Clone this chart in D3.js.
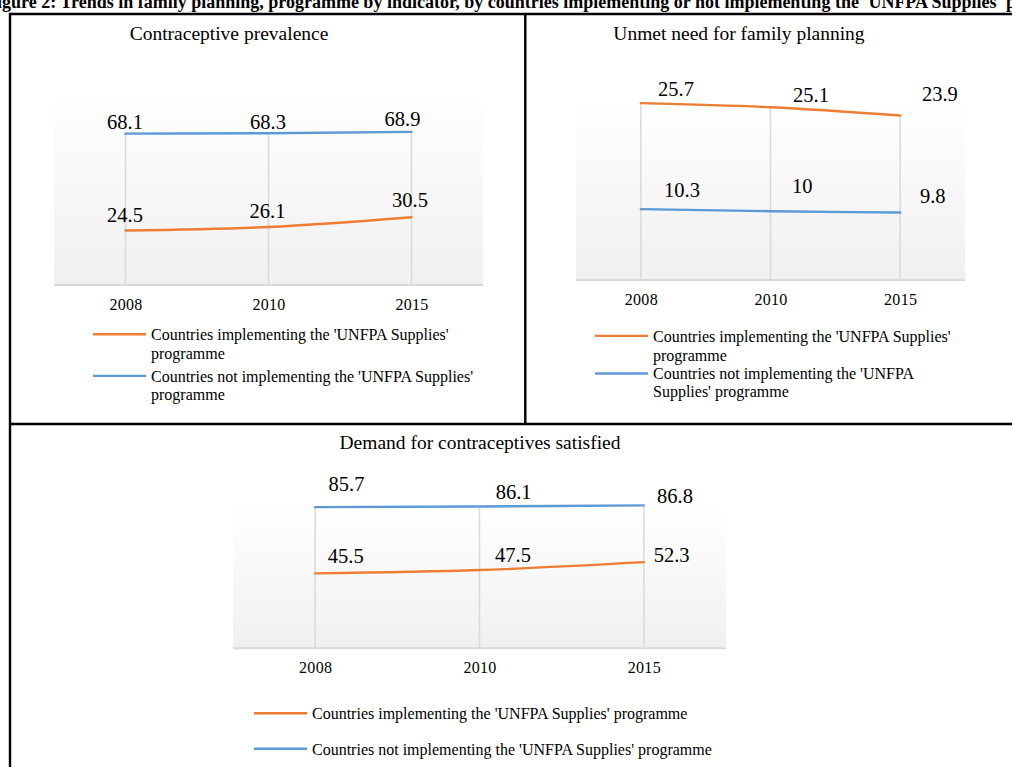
<!DOCTYPE html>
<html>
<head>
<meta charset="utf-8">
<script src="https://cdn.jsdelivr.net/npm/d3@7"></script>
<style>
  body { margin: 0; background: #fff; }
  svg { display: block; }
  text { font-family: "Liberation Serif", "Times New Roman", serif; fill: #000; }
</style>
</head>
<body>
<svg id="chart" width="1012" height="777"></svg>
<script>
// ---------- data ----------
const years = ["2008", "2010", "2015"];
const seriesNames = [
  "Countries implementing the 'UNFPA Supplies' programme",
  "Countries not implementing the 'UNFPA Supplies' programme"
];
const seriesColors = ["#ED7D31", "#5B9BD5"];
const panelTitles = ["Contraceptive prevalence", "Unmet need for family planning", "Demand for contraceptives satisfied"];

const prevalenceImplementing = [24.5, 26.1, 30.5];
const prevalenceNotImplementing = [68.1, 68.3, 68.9];
const unmetImplementing = [25.7, 25.1, 23.9];
const unmetNotImplementing = [10.3, 10.0, 9.8];
const demandImplementing = [45.5, 47.5, 52.3];
const demandNotImplementing = [85.7, 86.1, 86.8];

const headerText = "Figure 2: Trends in family planning, programme by indicator, by countries implementing or not implementing the 'UNFPA Supplies' programme";

// ---------- layout ----------
const panels = [
  {
    title: panelTitles[0], series: [prevalenceImplementing, prevalenceNotImplementing],
    x0: 54, x1: 483, top: 93, axisY: 285, yMax: 86.4,
    titleX: 229, titleY: 40, tickY: 310, anchor: "middle",
    offsets: [[[-0.5, -9], [-1, -9], [-1.5, -10.5]], [[-0.5, -4.8], [-0.5, -4.2], [-9, -6.2]]],
    legend: { swX: 93, txtX: 151, baselines: [[340, 359.3], [381.7, 400]],
      lines: [["Countries implementing the 'UNFPA Supplies'", "programme"],
              ["Countries not implementing the 'UNFPA Supplies'", "programme"]] }
  },
  {
    title: panelTitles[1], series: [unmetImplementing, unmetNotImplementing],
    x0: 576, x1: 965, top: 100, axisY: 280, yMax: 26.16,
    titleX: 739, titleY: 40, tickY: 305, anchor: "start",
    offsets: [[[17.2, -7.2], [22.5, -5.6], [21.8, -14.9]], [[23.2, -12.4], [21.5, -18.2], [19.8, -9.9]]],
    legend: { swX: 595, txtX: 653, baselines: [[341.7, 360.7], [379.3, 397.3]],
      lines: [["Countries implementing the 'UNFPA Supplies'", "programme"],
              ["Countries not implementing the 'UNFPA", "Supplies' programme"]] }
  },
  {
    title: panelTitles[2], series: [demandImplementing, demandNotImplementing],
    x0: 233, x1: 726, top: 505, axisY: 648.3, yMax: 87.0,
    titleX: 480, titleY: 449, tickY: 673, anchor: "start",
    offsets: [[[12.7, -10], [15.5, -8.4], [9.8, 0]], [[13.4, -16.6], [16.2, -7.2], [13.2, -2]]],
    legend: { swX: 254, txtX: 312, baselines: [[719], [754.6]],
      lines: [[seriesNames[0]], [seriesNames[1]]] }
  }
];

const svg = d3.select("#chart");
const defs = svg.append("defs");
const grad = defs.append("linearGradient").attr("id", "plotGrad")
  .attr("x1", 0).attr("y1", 0).attr("x2", 0).attr("y2", 1);
grad.append("stop").attr("offset", "0%").attr("stop-color", "#ffffff");
grad.append("stop").attr("offset", "100%").attr("stop-color", "#f0f0f0");

// header (cut off at top, as in the reference page crop)
svg.append("text").attr("x", -14).attr("y", 8)
  .style("font-size", "18px").style("font-weight", "bold")
  .text(headerText);

panels.forEach(p => {
  const g = svg.append("g");
  const x = d3.scalePoint().domain(years).range([p.x0, p.x1]).padding(0.5);
  const y = d3.scaleLinear().domain([0, p.yMax]).range([p.axisY, p.top]);

  g.append("rect").attr("x", p.x0).attr("y", p.top)
    .attr("width", p.x1 - p.x0).attr("height", p.axisY - p.top)
    .attr("fill", "url(#plotGrad)");

  // drop lines from highest series point to axis
  g.selectAll("line.drop").data(years).join("line")
    .attr("class", "drop")
    .attr("x1", d => x(d)).attr("x2", d => x(d))
    .attr("y1", (d, i) => y(d3.max(p.series, s => s[i])))
    .attr("y2", y(0))
    .attr("stroke", "#d9d9d9").attr("stroke-width", 1.5);

  // axis
  const axis = d3.axisBottom(x).tickSize(0).tickPadding(0);
  const ax = g.append("g").attr("transform", `translate(0,${y(0)})`).call(axis);
  ax.attr("font-family", null).attr("font-size", null);
  ax.select(".domain").attr("d", `M${p.x0},0H${p.x1}`).attr("stroke", "#d9d9d9").attr("stroke-width", 2);
  ax.selectAll(".tick text")
    .attr("y", p.tickY - p.axisY).attr("dy", 0)
    .attr("fill", "#000")
    .style("font-size", "16px").style("letter-spacing", "0.3px");

  // series lines
  const line = d3.line().x((d, i) => x(years[i])).y(d => y(d)).curve(d3.curveMonotoneX);
  p.series.forEach((s, si) => {
    g.append("path").datum(s).attr("d", line)
      .attr("fill", "none").attr("stroke", seriesColors[si])
      .attr("stroke-width", 2.4).attr("stroke-linecap", "round");
  });

  // data labels
  p.series.forEach((s, si) => {
    g.selectAll(null).data(s).join("text")
      .attr("x", (d, i) => x(years[i]) + p.offsets[si][i][0])
      .attr("y", (d, i) => y(d) + p.offsets[si][i][1])
      .attr("text-anchor", p.anchor)
      .style("font-size", "20.5px")
      .text(d => String(d));
  });

  // title
  g.append("text").attr("x", p.titleX).attr("y", p.titleY)
    .attr("text-anchor", "middle").style("font-size", "19.5px").text(p.title);

  // legend
  p.legend.lines.forEach((ls, si) => {
    const b = p.legend.baselines[si];
    g.append("line")
      .attr("x1", p.legend.swX).attr("x2", p.legend.swX + 53)
      .attr("y1", b[0] - 5.8).attr("y2", b[0] - 5.8)
      .attr("stroke", seriesColors[si]).attr("stroke-width", 2.4);
    ls.forEach((t, li) => {
      g.append("text").attr("x", p.legend.txtX).attr("y", b[li])
        .style("font-size", "16px").text(t);
    });
  });
});

// table borders
const borders = svg.append("g").attr("stroke", "#000").attr("stroke-width", 2.4);
borders.append("line").attr("x1", 9).attr("x2", 1012).attr("y1", 14).attr("y2", 14);
borders.append("line").attr("x1", 10).attr("x2", 10).attr("y1", 13).attr("y2", 767);
borders.append("line").attr("x1", 525.3).attr("x2", 525.3).attr("y1", 13).attr("y2", 424);
borders.append("line").attr("x1", 9).attr("x2", 1012).attr("y1", 424).attr("y2", 424);
</script>
</body>
</html>
